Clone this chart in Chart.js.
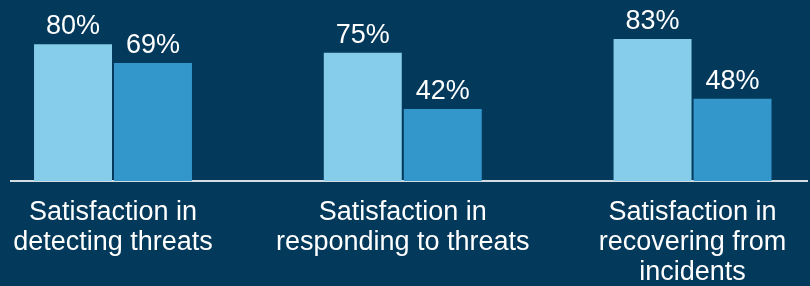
<!DOCTYPE html>
<html>
<head>
<meta charset="utf-8">
<script src="https://cdn.jsdelivr.net/npm/chart.js@4/dist/chart.umd.min.js"></script>
<style>
    html, body { margin: 0; padding: 0; background: #03395b; }
    #wrap { width: 810px; height: 286px; }
</style>
</head>
<body>
<div id="wrap"><canvas id="satisfactionChart"></canvas></div>
<script>
// Chart data
const categories = [
    ['Satisfaction in', 'detecting threats'],
    ['Satisfaction in', 'responding to threats'],
    ['Satisfaction in', 'recovering from', 'incidents']
];
const seriesA = [80, 75, 83];
const seriesB = [69, 42, 48];

// Draws the percentage above each bar
const valueLabels = {
    id: 'valueLabels',
    afterDatasetsDraw(chart) {
        const ctx = chart.ctx;
        ctx.save();
        ctx.font = "27px 'Liberation Sans', Arial, sans-serif";
        ctx.fillStyle = '#ffffff';
        ctx.textAlign = 'center';
        ctx.textBaseline = 'alphabetic';
        chart.data.datasets.forEach((ds, di) => {
            chart.getDatasetMeta(di).data.forEach((bar, i) => {
                ctx.fillText(ds.data[i].y + '%', bar.x, bar.y - 10);
            });
        });
        ctx.restore();
    }
};

function createChart() {
    const canvas = document.getElementById('satisfactionChart');
    if (!canvas) return null;

    Chart.defaults.font.family = "'Liberation Sans', Arial, sans-serif";

    return new Chart(canvas, {
        type: 'bar',
        data: {
            datasets: [
                {
                    label: 'Series A',
                    data: seriesA.map((v, i) => ({ x: i, y: v })),
                    backgroundColor: '#85cdea'
                },
                {
                    label: 'Series B',
                    data: seriesB.map((v, i) => ({ x: i, y: v })),
                    backgroundColor: '#3497cc'
                }
            ]
        },
        options: {
            responsive: true,
            maintainAspectRatio: false,
            animation: false,
            categoryPercentage: 0.552,
            barPercentage: 0.975,
            layout: { padding: { left: 11, right: 3, top: 10, bottom: -18 } },
            scales: {
                x: {
                    type: 'linear',
                    bounds: 'data',
                    offset: false,
                    min: -0.352,
                    max: 2.395,
                    // one tick per category
                    afterBuildTicks: (scale) => {
                        scale.ticks = categories.map((c, i) => ({ value: i }));
                    },
                    // labels may hang past the axis ends, don't shrink the plot for them
                    afterFit: (scale) => {
                        scale.paddingLeft = 0;
                        scale.paddingRight = 0;
                    },
                    grid: { display: false, drawTicks: false, offset: false },
                    border: { display: true, color: '#d3dbe3', width: 2 },
                    ticks: {
                        autoSkip: false,
                        maxRotation: 0,
                        padding: 17,
                        color: '#ffffff',
                        font: { size: 27, lineHeight: 1.1 },
                        callback: (value) => categories[value] || ''
                    }
                },
                y: {
                    display: false,
                    min: 0,
                    max: 100
                }
            },
            plugins: {
                legend: { display: false },
                tooltip: { enabled: false }
            }
        },
        plugins: [valueLabels]
    });
}

createChart();
</script>
</body>
</html>
